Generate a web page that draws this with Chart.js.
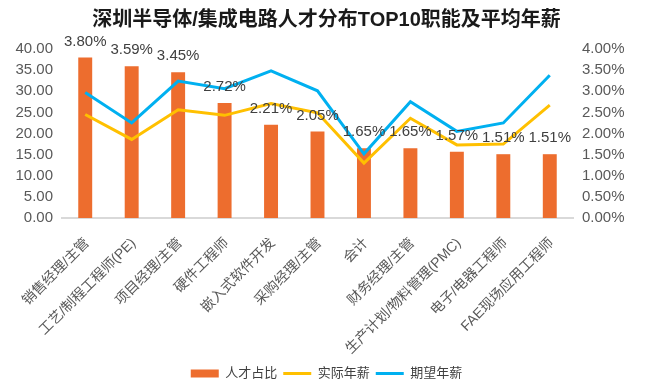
<!DOCTYPE html>
<html>
<head>
<meta charset="utf-8">
<script src="https://cdn.jsdelivr.net/npm/chart.js@4/dist/chart.umd.min.js"></script>
<style>
html,body{margin:0;padding:0;background:#fff;}
#wrap{width:653px;height:386px;}
</style>
</head>
<body>
<div id="wrap"><canvas id="c" width="653" height="386"></canvas></div>
<script>
const categories = ["销售经理/主管","工艺/制程工程师(PE)","项目经理/主管","硬件工程师","嵌入式软件开发","采购经理/主管","会计","财务经理/主管","生产计划/物料管理(PMC)","电子/电器工程师","FAE现场应用工程师"];
const talentShare = [3.80,3.59,3.45,2.72,2.21,2.05,1.65,1.65,1.57,1.51,1.51];
const actualSalary = [24.5,18.6,25.6,24.3,27.1,24.9,13.0,23.6,17.3,17.5,26.7];
const expectedSalary = [29.7,22.5,32.4,30.6,34.8,30.1,15.2,27.5,20.5,22.5,33.8];
const leftTicks = [0,5,10,15,20,25,30,35,40];
const rightTicks = [0,0.5,1,1.5,2,2.5,3,3.5,4];

const FONT = '"Liberation Sans", "Noto Sans CJK SC", sans-serif';
const TICK = '#595959';

const barLabels = {
  id: 'barLabels',
  afterDatasetsDraw(chart) {
    const meta = chart.getDatasetMeta(0);
    const ctx = chart.ctx;
    ctx.save();
    ctx.font = '15px ' + FONT;
    ctx.fillStyle = '#404040';
    ctx.textAlign = 'center';
    ctx.textBaseline = 'middle';
    meta.data.forEach((el, i) => {
      ctx.fillText(talentShare[i].toFixed(2) + '%', el.x, el.y - 16);
    });
    ctx.restore();
  }
};

new Chart(document.getElementById('c'), {
  data: {
    labels: categories,
    datasets: [
      {
        type: 'bar', label: '人才占比', data: talentShare, yAxisID: 'yR',
        backgroundColor: '#ED6D2E', borderWidth: 0, order: 2,
        barPercentage: 0.6, categoryPercentage: 0.5, pointStyle: 'rect'
      },
      {
        type: 'line', label: '实际年薪', data: actualSalary, yAxisID: 'yL',
        borderColor: '#FFC000', backgroundColor: '#FFC000', borderWidth: 3,
        pointRadius: 0, tension: 0, order: 1, pointStyle: 'line'
      },
      {
        type: 'line', label: '期望年薪', data: expectedSalary, yAxisID: 'yL',
        borderColor: '#00B0F0', backgroundColor: '#00B0F0', borderWidth: 3,
        pointRadius: 0, tension: 0, order: 0, pointStyle: 'line'
      }
    ]
  },
  options: {
    responsive: false,
    animation: false,
    devicePixelRatio: 1,
    layout: { padding: { left: 0, right: 0, top: 0, bottom: -4 } },
    plugins: {
      title: {
        display: true,
        text: '深圳半导体/集成电路人才分布TOP10职能及平均年薪',
        color: '#1a1a1a',
        font: { family: FONT, size: 20, weight: 'bold' },
        padding: { top: 8, bottom: 17 }
      },
      legend: {
        position: 'bottom',
        labels: {
          color: '#404040',
          font: { family: FONT, size: 13 },
          usePointStyle: true,
          pointStyleWidth: 28,
          boxHeight: 8,
          padding: 6,
          sort: (a, b) => a.datasetIndex - b.datasetIndex
        }
      },
      tooltip: { enabled: false }
    },
    scales: {
      x: {
        grid: { display: false, drawTicks: false },
        border: { display: true, color: '#D9D9D9', width: 2 },
        afterFit: (s) => { s.height = 143; },
        ticks: {
          color: TICK, font: { family: FONT, size: 14 },
          maxRotation: 45, minRotation: 45, autoSkip: false, padding: 17, labelOffset: 2
        }
      },
      yL: {
        position: 'left', min: 0, max: 40,
        grid: { display: false, drawTicks: false },
        border: { display: false },
        afterBuildTicks: (s) => { s.ticks = leftTicks.map(v => ({ value: v })); },
        afterFit: (s) => { s.width = 62; },
        ticks: {
          color: TICK, font: { family: FONT, size: 15 }, padding: 9, autoSkip: false,
          callback: (v) => Number(v).toFixed(2)
        }
      },
      yR: {
        position: 'right', min: 0, max: 4,
        grid: { display: false, drawTicks: false },
        border: { display: false },
        afterBuildTicks: (s) => { s.ticks = rightTicks.map(v => ({ value: v })); },
        afterFit: (s) => { s.width = 80; },
        ticks: {
          color: TICK, font: { family: FONT, size: 15 }, padding: 9, autoSkip: false,
          callback: (v) => Number(v).toFixed(2) + '%'
        }
      }
    }
  },
  plugins: [barLabels]
});
</script>
</body>
</html>
